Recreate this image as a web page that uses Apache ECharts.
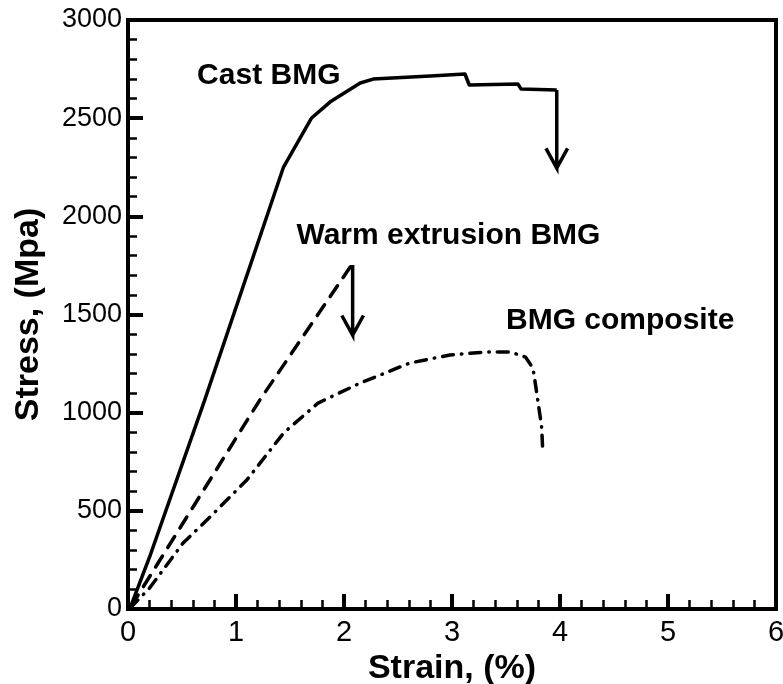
<!DOCTYPE html>
<html>
<head>
<meta charset="utf-8">
<script src="https://cdn.jsdelivr.net/npm/echarts@6/dist/echarts.min.js"></script>
<style>html,body{margin:0;padding:0;background:#fff}#c{width:783px;height:684px}</style>
</head>
<body>
<div id="c"></div>
<script>
// ---- data (strain %, stress MPa) ----
const xTicks = [0, 1, 2, 3, 4, 5, 6];
const yTicks = [0, 500, 1000, 1500, 2000, 2500, 3000];

const castBMG = [
  [0.03, 20], [0.20, 265], [0.71, 1064], [1.44, 2251], [1.70, 2501],
  [1.87, 2582], [2.15, 2679], [2.27, 2699], [2.80, 2715], [3.12, 2725],
  [3.16, 2669], [3.61, 2674], [3.64, 2648], [3.97, 2643]
];
const warmBMG = [
  [0.03, 15], [1.22, 1064], [2.07, 1752]
];
const compositeBMG = [
  [0.02, 5], [0.20, 107], [0.51, 336], [0.76, 469], [1.10, 657],
  [1.44, 896], [1.76, 1049], [2.15, 1151], [2.61, 1253], [2.98, 1294],
  [3.32, 1309], [3.54, 1309], [3.68, 1283], [3.75, 1227], [3.79, 1080],
  [3.83, 927], [3.84, 810]
];

// arrows: [x, yStart, yTip]
const castArrow = [3.97, 2643, 2246];
const warmArrow = [2.08, 1752, 1395];
const arrowHeadDx = 0.1;   // strain half-width of the V head
const arrowHeadDy = 100;   // stress length of the V head

const annotations = [
  { text: 'Cast BMG', x: 0.64, y: 2717 },
  { text: 'Warm extrusion BMG', x: 1.56, y: 1900 },
  { text: 'BMG composite', x: 3.50, y: 1467 }
];

// ---- build ----
function arrowPath(a) {
  const [x, y0, y1] = a;
  return [[x, y0], [x, y1], [x - arrowHeadDx, y1 + arrowHeadDy], [x, y1], [x + arrowHeadDx, y1 + arrowHeadDy]];
}
const FONT = '"Liberation Sans", Arial, Helvetica, sans-serif';
const NARROW = '"Liberation Sans Narrow", "Arial Narrow", "Liberation Sans", sans-serif';
const chart = echarts.init(document.getElementById('c'), null, { renderer: 'canvas' });

const lineBase = { type: 'line', showSymbol: false, symbol: 'none', animation: false, silent: true };

chart.setOption({
  backgroundColor: '#fff',
  animation: false,
  grid: { left: 128, right: 7, top: 20, bottom: 75, containLabel: false, outerBoundsMode: 'none',
    show: true, borderColor: '#000', borderWidth: 4, backgroundColor: 'transparent' },
  xAxis: {
    type: 'value', min: xTicks[0], max: xTicks[xTicks.length - 1], interval: 1,
    name: 'Strain, (%)', nameLocation: 'middle', nameGap: 36,
    nameTextStyle: { fontFamily: FONT, fontWeight: 'bold', fontSize: 34, color: '#000' },
    axisLine: { show: true, lineStyle: { color: '#000', width: 4 } },
    axisTick: { show: true, inside: true, length: 15, lineStyle: { color: '#000', width: 4 } },
    minorTick: { show: true, splitNumber: 5, length: 9, lineStyle: { color: '#000', width: 2.5 } },
    splitLine: { show: false },
    axisLabel: { fontFamily: NARROW, fontSize: 29, color: '#000', margin: 9, formatter: v => String(v) }
  },
  yAxis: {
    type: 'value', min: yTicks[0], max: yTicks[yTicks.length - 1], interval: 500,
    name: 'Stress, (Mpa)', nameLocation: 'middle', nameGap: 82,
    nameTextStyle: { fontFamily: FONT, fontWeight: 'bold', fontSize: 34, color: '#000' },
    axisLine: { show: true, lineStyle: { color: '#000', width: 4 } },
    axisTick: { show: true, inside: true, length: 15, lineStyle: { color: '#000', width: 4 } },
    minorTick: { show: true, splitNumber: 5, length: 9, lineStyle: { color: '#000', width: 2.5 } },
    splitLine: { show: false },
    axisLabel: { fontFamily: NARROW, fontSize: 27, color: '#000', margin: 6, formatter: v => String(v) }
  },
  series: [
    Object.assign({}, lineBase, { name: 'Cast BMG', data: castBMG,
      lineStyle: { color: '#000', width: 3.5, join: 'round' } }),
    Object.assign({}, lineBase, { name: 'Warm extrusion BMG', data: warmBMG,
      lineStyle: { color: '#000', width: 3.5, type: [13, 10], cap: 'round' } }),
    Object.assign({}, lineBase, { name: 'BMG composite', data: compositeBMG,
      lineStyle: { color: '#000', width: 3.5, type: [11, 8, 0.5, 8], cap: 'round', join: 'round' } }),
    Object.assign({}, lineBase, { name: 'arrow1', data: arrowPath(castArrow),
      lineStyle: { color: '#000', width: 3.5, join: 'miter' } }),
    Object.assign({}, lineBase, { name: 'arrow2', data: arrowPath(warmArrow),
      lineStyle: { color: '#000', width: 3.5, join: 'miter' } }),
    {
      type: 'scatter', symbolSize: 0, silent: true, animation: false,
      itemStyle: { color: '#000', opacity: 1 },
      data: annotations.map(a => ({ value: [a.x, a.y], name: a.text })),
      label: { show: true, position: 'right', distance: 0, formatter: p => p.name,
        fontFamily: FONT, fontWeight: 'bold', fontSize: 30, color: '#000', opacity: 1, textBorderWidth: 0 }
    }
  ]
});
</script>
</body>
</html>
